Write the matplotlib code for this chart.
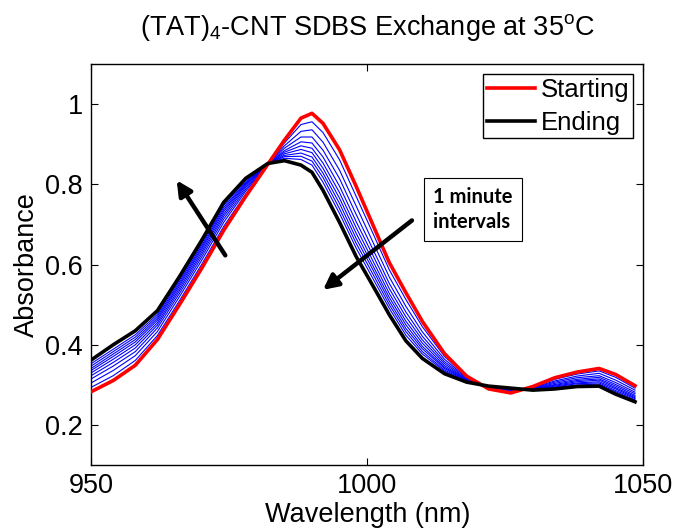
import matplotlib
matplotlib.use("Agg")
import matplotlib.pyplot as plt

plt.rcParams['font.family'] = ['Liberation Sans', 'DejaVu Sans']
plt.rcParams['mathtext.fontset'] = 'custom'
plt.rcParams['mathtext.rm'] = 'Liberation Sans'
plt.rcParams['mathtext.it'] = 'Liberation Sans:italic'

# Wavelength grid (nm)
wavelength = [950, 954, 958, 962, 966, 970, 974, 978, 982, 985, 988, 990, 992, 995,
              998, 1001, 1004, 1007, 1010, 1014, 1018, 1022, 1026, 1030, 1034, 1038,
              1042, 1045, 1048.5]

# First spectrum of the exchange run
starting = [.283, .311, .349, .413, .500, .590, .685, .770, .850, .910, .965, .977, .952, .886,
            .795, .700, .605, .530, .458, .378, .322, .290, .280, .296, .318, .332,
            .341, .326, .298]

# Last spectrum of the exchange run
ending = [.362, .400, .435, .485, .570, .660, .755, .815, .852, .859, .848, .830, .785, .705,
          .620, .548, .475, .410, .366, .328, .307, .297, .292, .287, .290, .296,
          .297, .277, .258]

# Spectra recorded at 1 minute intervals in between
interval_1 = [.294, .323, .361, .423, .510, .600, .695, .776, .850, .903, .949, .956, .929, .861,
              .770, .679, .587, .513, .445, .371, .320, .291, .282, .295, .314, .327, .335, .319, .292]
interval_2 = [.305, .336, .373, .433, .520, .610, .705, .783, .851, .896, .932, .936, .905, .835,
              .746, .657, .569, .496, .432, .364, .318, .292, .283, .293, .310, .322, .329, .312, .287]
interval_3 = [.315, .347, .383, .442, .528, .618, .713, .788, .851, .890, .918, .918, .885, .814,
              .725, .639, .553, .482, .421, .358, .316, .293, .285, .292, .307, .318, .323, .306, .282]
interval_4 = [.323, .356, .392, .449, .535, .625, .720, .793, .851, .884, .906, .903, .868, .795,
              .707, .624, .540, .470, .412, .353, .314, .294, .286, .291, .304, .314, .319, .301, .278]
interval_5 = [.330, .364, .400, .455, .541, .631, .726, .797, .851, .880, .896, .890, .853, .779,
              .692, .610, .528, .459, .404, .348, .313, .294, .287, .291, .301, .311, .315, .297, .274]
interval_6 = [.336, .371, .407, .461, .547, .637, .732, .800, .851, .876, .887, .879, .840, .765,
              .678, .598, .518, .450, .396, .344, .312, .295, .288, .290, .299, .308, .312, .293, .271]
interval_7 = [.341, .377, .413, .466, .552, .642, .737, .803, .851, .872, .878, .868, .828, .752,
              .665, .588, .509, .441, .390, .341, .311, .295, .289, .289, .297, .305, .308, .290, .268]
interval_8 = [.347, .383, .419, .471, .557, .647, .742, .806, .852, .869, .870, .858, .817, .739,
              .653, .577, .500, .433, .383, .337, .310, .296, .290, .289, .295, .303, .305, .286, .266]
interval_9 = [.353, .389, .425, .476, .562, .652, .747, .810, .852, .865, .862, .848, .805, .727,
              .641, .566, .491, .424, .377, .334, .309, .296, .291, .288, .293, .300, .302, .283, .263]

intervals = [interval_1, interval_2, interval_3, interval_4, interval_5,
             interval_6, interval_7, interval_8, interval_9]

x_ticks = [950, 1000, 1050]
x_tick_labels = ['950', '1000', '1050']
y_ticks = [0.2, 0.4, 0.6, 0.8, 1.0]
y_tick_labels = ['0.2', '0.4', '0.6', '0.8', '1']

fig = plt.figure(figsize=(6.75, 5.31), dpi=100)
ax = fig.add_axes([0.135, 0.124, 0.818, 0.7555])

for spectrum in intervals:
    ax.plot(wavelength, spectrum, color='#0000ff', lw=0.8, zorder=2)
ax.plot(wavelength, starting, color='#ff0000', lw=2.6, label='Starting', zorder=3)
ax.plot(wavelength, ending, color='black', lw=2.6, label='Ending', zorder=4)

ax.set_xlim(950, 1050)
ax.set_ylim(0.1, 1.1)
ax.set_xticks(x_ticks)
ax.set_xticklabels(x_tick_labels)
ax.set_yticks(y_ticks)
ax.set_yticklabels(y_tick_labels)
ax.tick_params(direction='in', length=5, width=0.8, top=True, right=True,
               labelsize=19.5, pad=6)
for sp in ax.spines.values():
    sp.set_linewidth(1.0)

ax.set_xlabel('Wavelength (nm)', fontsize=19.5, labelpad=2)
ax.set_ylabel('Absorbance', fontsize=19.5, labelpad=4)
ax.set_title(r'(TAT)$_4$-CNT SDBS Exchange at 35$^{\rm o}$C', fontsize=19.5, pad=21)

leg = ax.legend(loc='upper right', fontsize=18.5, fancybox=False, edgecolor='black',
                framealpha=1, borderaxespad=0.4, handlelength=1.9, handletextpad=0.2,
                borderpad=0.15, labelspacing=0.33)
leg.get_frame().set_linewidth(1.0)

# Direction of change arrows
arrow_style = dict(arrowstyle='-|>', color='black', lw=3.2, mutation_scale=22,
                   shrinkA=0, shrinkB=0)
ax.annotate('', xy=(965.5, 0.81), xytext=(974.3, 0.623), arrowprops=arrow_style, zorder=5)
ax.annotate('', xy=(992.0, 0.537), xytext=(1008.1, 0.710), arrowprops=arrow_style, zorder=5)

ax.text(1012.0, 0.737, '1 minute\nintervals', fontsize=14.5, fontweight='bold',
        family=['Lato', 'DejaVu Sans'], ha='left', va='center', linespacing=1.35,
        bbox=dict(boxstyle='square,pad=0.45', facecolor='white', edgecolor='black', lw=0.8),
        zorder=6)

fig.savefig('out.png', dpi=100)
